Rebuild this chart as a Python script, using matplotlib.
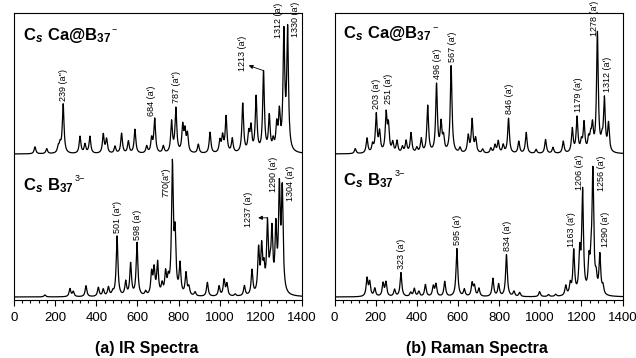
import numpy as np
import matplotlib
matplotlib.use("Agg")
import matplotlib.pyplot as plt

plt.rcParams['font.family'] = ['Liberation Sans', 'DejaVu Sans']
plt.rcParams['mathtext.fontset'] = 'custom'
plt.rcParams['mathtext.rm'] = 'Liberation Sans'
plt.rcParams['mathtext.bf'] = 'Liberation Sans:bold'
plt.rcParams['mathtext.it'] = 'Liberation Sans:bold:italic'

# --- peak tables (wavenumber in cm^-1, relative intensity) ---
ir_ca_pos = [102, 159, 215, 224, 239, 321, 345, 369, 434, 450, 491, 523, 556, 588,
             645, 669, 684, 726, 766, 787, 820, 831, 843, 896, 953, 1001, 1014, 1031,
             1061, 1112, 1141, 1152, 1177, 1213, 1241, 1260, 1277, 1290, 1312, 1330]
ir_ca_int = [7, 5, 6, 8, 49, 17, 9, 17, 19, 14, 7, 20, 12, 24,
             7, 14, 34, 7, 31, 44, 26, 20, 18, 9, 21, 12, 16, 36,
             14, 49, 18, 24, 55, 80, 35, 10, 25, 36, 116, 120]

ir_b_pos = [150, 272, 288, 350, 410, 434, 459, 480, 501, 543, 567, 598, 640, 669,
            681, 698, 720, 737, 750, 770, 783, 807, 836, 850, 880, 940, 997, 1021,
            1035, 1075, 1120, 1157, 1189, 1204, 1215, 1232, 1245, 1254, 1273, 1290, 1304]
ir_b_int = [2, 8, 5, 11, 9, 7, 9, 4, 60, 14, 32, 53, 4, 22,
            25, 32, 10, 21, 13, 128, 56, 30, 22, 8, 4, 14, 10, 16,
            12, 2, 10, 25, 44, 44, 22, 68, 18, 58, 62, 100, 100]

ra_ca_pos = [101, 158, 185, 203, 219, 251, 262, 283, 304, 330, 348, 372, 400, 422,
             453, 496, 518, 530, 567, 610, 650, 669, 686, 720, 760, 780, 796, 820,
             846, 896, 932, 980, 1026, 1062, 1112, 1156, 1179, 1200, 1213, 1235, 1245,
             1254, 1278, 1300, 1312, 1332]
ra_ca_int = [5, 15, 8, 38, 20, 38, 26, 10, 12, 6, 12, 20, 5, 14,
             47, 68, 28, 14, 87, 5, 17, 33, 14, 4, 5, 8, 12, 8,
             35, 12, 21, 4, 14, 6, 12, 24, 35, 10, 29, 12, 13,
             24, 119, 10, 52, 28]

ra_b_pos = [158, 171, 196, 236, 250, 292, 323, 370, 388, 410, 442, 480, 493, 536,
            595, 631, 669, 680, 702, 770, 798, 836, 872, 900, 997, 1040, 1075, 1124,
            1146, 1163, 1192, 1206, 1237, 1247, 1256, 1272, 1290, 1305]
ra_b_int = [18, 14, 8, 13, 14, 7, 24, 4, 8, 5, 12, 10, 12, 15,
            48, 7, 13, 10, 8, 18, 12, 42, 5, 4, 5, 2, 2, 10,
            11, 44, 40, 102, 30, 22, 120, 14, 39, 8]

# labelled modes
ir_ca_lab = [239, 684, 787, 1213, 1312, 1330]
ir_ca_txt = ["239 (a'')", "684 (a')", "787 (a'')", "1213 (a')", "1312 (a')", "1330 (a')"]
ir_b_lab = [501, 598, 770, 1232, 1290, 1304]
ir_b_txt = ["501 (a'')", "598 (a')", "770(a'')", "1237 (a')", "1290 (a')", "1304 (a')"]
ra_ca_lab = [203, 251, 496, 567, 846, 1179, 1278, 1312]
ra_ca_txt = ["203 (a')", "251 (a')", "496 (a')", "567 (a')", "846 (a')",
             "1179 (a')", "1278 (a')", "1312 (a')"]
ra_b_lab = [323, 595, 834, 1163, 1206, 1256, 1290]
ra_b_txt = ["323 (a')", "595 (a')", "834 (a')", "1163 (a')", "1206 (a')",
            "1256 (a')", "1290 (a')"]

# label placement (dx in cm^-1, dy above the peak top)
ir_ca_off = [(0, 3), (-15, 2), (1, 4), (-100, -1), (-27, -12), (36, -13)]
ir_b_off = [(0, 3), (1, 2), (-31, -38), (-93, -9), (-29, -14), (38, -18)]
ra_ca_off = [(0, 4), (12, 6), (6, 4), (8, 4), (4, 4), (8, 4), (-14, -5), (16, 4)]
ra_b_off = [(4, 3), (4, 3), (6, 3), (-10, 2), (-16, -3), (43, -25), (25, 6)]
# arrows: (peak wavenumber, dx, dy)
ir_ca_arrow = (1213, -72, 5)
ir_b_arrow = (1232, -45, 0)

wn = np.arange(0, 1400.5, 1.0)
HWHM = 5.0
OFFSET = 143


def spectrum(pos, inten):
    p = np.asarray(pos, float)[:, None]
    h = np.asarray(inten, float)[:, None]
    return (h * HWHM ** 2 / ((wn[None, :] - p) ** 2 + HWHM ** 2)).sum(axis=0)


def peak_top(curve, x):
    m = (wn >= x - 4) & (wn <= x + 4)
    return curve[m].max()


def draw_panel(ax, top, bottom, top_lab, bot_lab, arrows):
    y_top = spectrum(*top) + OFFSET
    y_bot = spectrum(*bottom)
    ax.plot(wn, y_top, color='black', lw=0.9)
    ax.plot(wn, y_bot, color='black', lw=0.9)
    for curve, (labs, txts, offs) in ((y_top, top_lab), (y_bot, bot_lab)):
        for x, t, (dx, dy) in zip(labs, txts, offs):
            ax.text(x + dx, peak_top(curve, x) + dy, t, rotation=90, fontsize=6.5,
                    ha='center', va='bottom', clip_on=False)
    for curve, arr in zip((y_top, y_bot), arrows):
        if arr is None:
            continue
        x, dx, dy = arr
        y = peak_top(curve, x)
        ax.annotate('', xy=(x + dx, y + dy), xytext=(x - 2, y),
                    arrowprops=dict(arrowstyle='-|>', lw=0.6, color='black',
                                    mutation_scale=6, shrinkA=0, shrinkB=0))
    ax.set_xlim(0, 1400)
    ax.set_ylim(-2.5, 284.5)
    ax.set_yticks([])
    ax.set_xticks(np.arange(0, 1401, 200))
    ax.set_xticks(np.arange(0, 1401, 40), minor=True)
    ax.tick_params(axis='x', which='major', length=4, width=0.8, labelsize=9.5, pad=5)
    ax.tick_params(axis='x', which='minor', length=2.5, width=0.8)
    for s in ax.spines.values():
        s.set_linewidth(0.8)


def species(ax, x, y, body, charge):
    t = ax.text(x, y, body, transform=ax.transAxes, fontsize=12, va='baseline')
    ax.annotate(charge, xy=(1, 1), xycoords=t, xytext=(0.5, 1.5),
                textcoords='offset points', fontsize=6.5, ha='left', va='top')


fig = plt.figure(figsize=(6.36, 3.58), dpi=100)
ax1 = fig.add_axes([14 / 636, 58.5 / 358, 288 / 636, 287 / 358])
ax2 = fig.add_axes([334.5 / 636, 58.5 / 358, 288 / 636, 287 / 358])

draw_panel(ax1, (ir_ca_pos, ir_ca_int), (ir_b_pos, ir_b_int),
           (ir_ca_lab, ir_ca_txt, ir_ca_off), (ir_b_lab, ir_b_txt, ir_b_off),
           (ir_ca_arrow, ir_b_arrow))
draw_panel(ax2, (ra_ca_pos, ra_ca_int), (ra_b_pos, ra_b_int),
           (ra_ca_lab, ra_ca_txt, ra_ca_off), (ra_b_lab, ra_b_txt, ra_b_off),
           (None, None))

name_ca = r'$\mathbf{C}_{\mathit{s}}\ \mathbf{Ca@B}_{\mathbf{37}}$'
name_b = r'$\mathbf{C}_{\mathit{s}}\ \mathbf{B}_{\mathbf{37}}$'
for ax, ytop, ybot in ((ax1, 0.904, 0.3815), (ax2, 0.911, 0.399)):
    species(ax, 0.031, ytop, name_ca, '\u2212')
    species(ax, 0.031, ybot, name_b, '3\u2212')

fig.text(147 / 636, 1 - 348.5 / 358, '(a) IR Spectra', fontsize=11.5,
         fontweight='bold', ha='center', va='center')
fig.text(477 / 636, 1 - 348.5 / 358, '(b) Raman Spectra', fontsize=11.5,
         fontweight='bold', ha='center', va='center')

fig.savefig('out.png', dpi=100)
